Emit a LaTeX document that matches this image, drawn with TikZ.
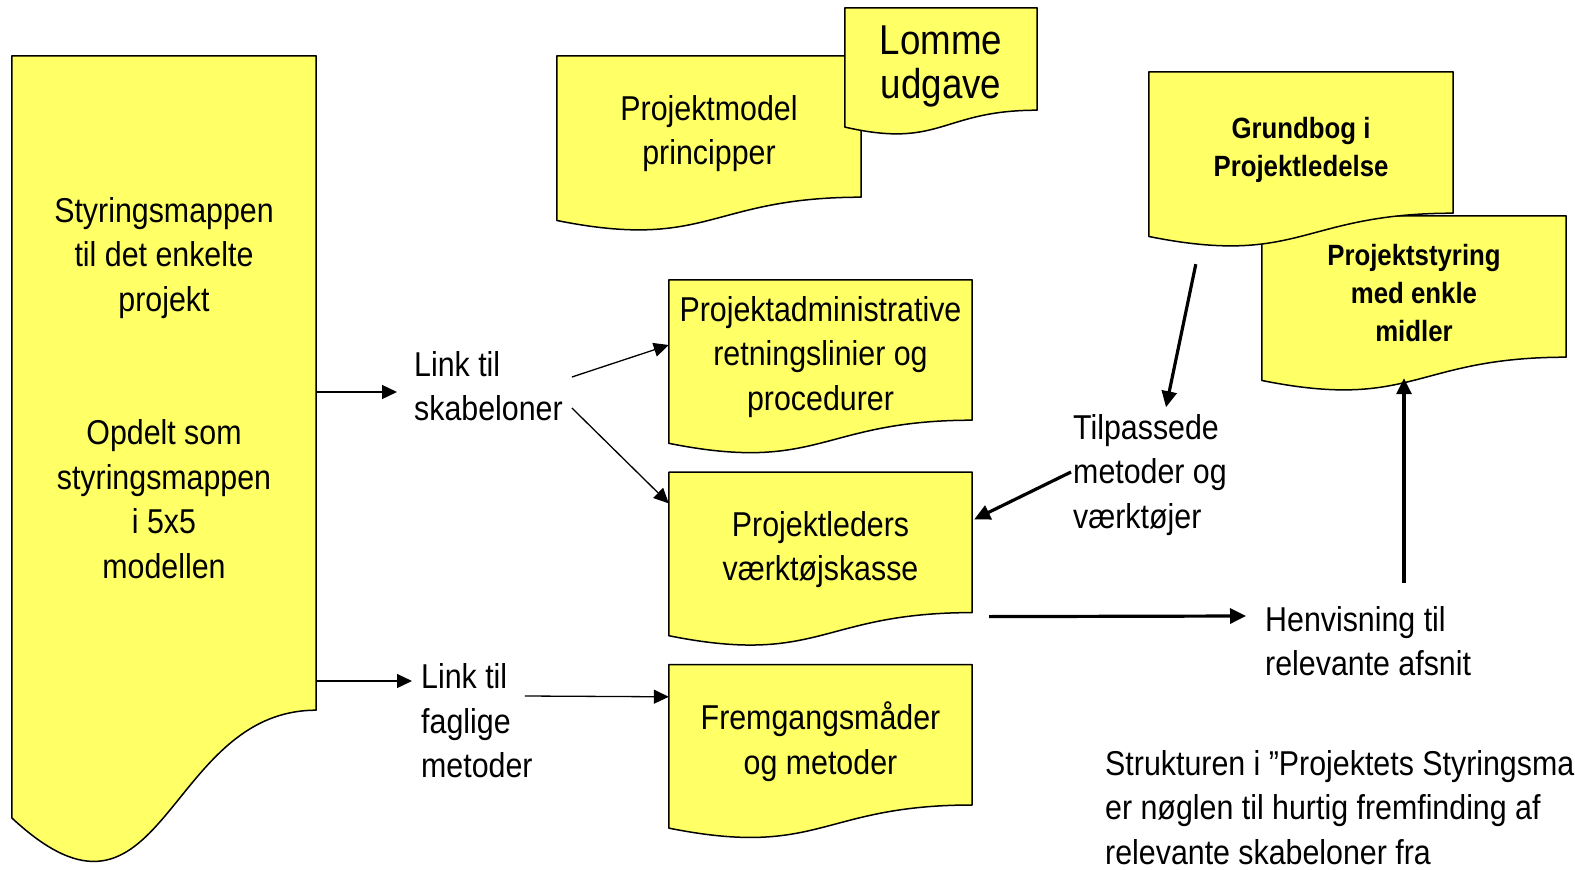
\documentclass[tikz,border=0pt]{standalone}
\usepackage{fontspec}
\setmainfont{Liberation Sans}[FakeStretch=0.88]
\usepackage{tikz}
\usetikzlibrary{arrows.meta,positioning,calc,backgrounds}
\definecolor{docyellow}{RGB}{255,255,102}

\newcommand{\docshape}[2][7pt]{%
  \filldraw[doc] let \p1=([yshift=#1]#2.north west), \p2=([yshift=#1]#2.south east), \n1={\y1-\y2} in
    (\p1) -- (\x2,\y1) -- (\p2)
    .. controls ({(\x1+\x2)/2},\y2) and ({(\x1+\x2)/2},{\y2-0.381*\n1}) ..
    (\x1,{\y2-0.1646*\n1}) -- cycle;}

\begin{document}
\begin{tikzpicture}[x=1pt, y=-1pt, node distance=52pt,
    doc/.style={fill=docyellow, draw=black, line width=1.5pt, line join=round},
    box/.style={inner sep=0pt, minimum width=303pt, minimum height=140pt, align=center, font=\fontsize{34.5}{44.5}\selectfont},
    boldbox/.style={box, minimum width=304pt, minimum height=141pt, font=\fontsize{29.3}{38}\selectfont\bfseries},
    lbl/.style={inner sep=0pt, align=left, anchor=west, font=\fontsize{34.5}{44.5}\selectfont},
    arrow/.style={-{Triangle[length=15pt, width=14pt]}, line width=1.3pt},
    bigarrow/.style={-{Triangle[length=16pt, width=15pt]}, line width=3.2pt}]

    \useasboundingbox (0,0) rectangle (1575,870);

    \node[box, minimum width=304pt, minimum height=654pt] (mappe) at (164,388) {Styringsmappen\\til det enkelte\\projekt\\[89pt]Opdelt som\\styringsmappen\\i 5x5\\modellen};
    \node[box, minimum width=304pt, minimum height=141pt] (pm) at (709,133.5) {Projektmodel\\principper};
    \node[box, minimum width=192pt, minimum height=102pt, font=\fontsize{41.7}{44}\selectfont] (lu) at (941,66) {Lomme\\udgave};
    \node[box] (pa) at (820.5,357) {Projektadministrative\\retningslinier og\\procedurer};
    \node[box, below=of pa] (pl) {Projektleders\\værktøjskasse};
    \node[box, below=of pl] (fm) {Fremgangsmåder\\og metoder};
    \node[boldbox] (gb) at (1301,149.5) {Grundbog i\\Projektledelse};
    \node[boldbox] (ps) at (1414,293.5) {Projektstyring\\med enkle\\midler};

    \node[lbl] (lts) at (414,386) {Link til\\skabeloner};
    \node[lbl] (ltf) at (421,721) {Link til\\faglige\\metoder};
    \node[lbl] (tm) at (1073,475) {Tilpassede\\metoder og\\værktøjer};
    \node[lbl] (hv) at (1265,641) {Henvisning til\\relevante afsnit};
    \node[lbl, anchor=north west] (note) at (1105,750) {Strukturen i ”Projektets Styringsmappe”\\er nøglen til hurtig fremfinding af\\relevante skabeloner fra};

    \begin{pgfonlayer}{background}
    \docshape[5pt]{mappe}
    \docshape{pm}
    \docshape{lu}
    \docshape{pa}
    \docshape{pl}
    \docshape{fm}
    \docshape{ps}
    \docshape{gb}
    \end{pgfonlayer}

    \draw[arrow] ($(mappe.east |- lts.west)+(0,6)$) -- ($(lts.west)+(-17,6)$);
    \draw[arrow] ($(lts.east)+(9,-9)$) -- ($(pa.west)+(0,-12)$);
    \draw[arrow] ($(lts.east)+(9,22)$) -- ($(pl.west)+(0,-46)$);
    \draw[arrow] ($(mappe.east |- ltf.west)+(0,-40)$) -- ($(ltf.west)+(-9,-40)$);
    \draw[arrow] ($(ltf.east)+(-8,-25)$) -- ($(fm.west)+(0,-45)$);
    \draw[bigarrow] ($(gb.south west)+(47,44)$) -- ($(tm.north west)+(93,-7)$);
    \draw[bigarrow] ($(tm.west)+(-2,-3)$) -- ($(pl.east)+(2,-30)$);
    \draw[bigarrow] ($(pl.south east)+(17,-3)$) -- ($(hv.west)+(-19,-25)$);
    \draw[bigarrow] ($(hv.north west)+(139,-23)$) -- ($(ps.south)+(-10,14)$);
\end{tikzpicture}
\end{document}
